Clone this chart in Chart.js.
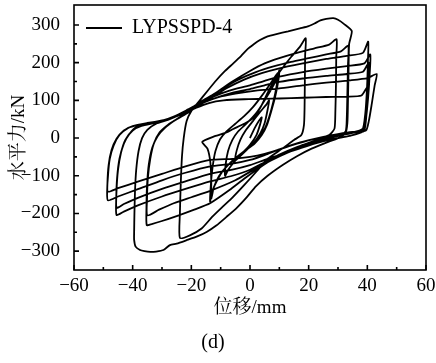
<!DOCTYPE html>
<html><head><meta charset="utf-8">
<script src="https://cdn.jsdelivr.net/npm/chart.js@4.4.1/dist/chart.umd.min.js"></script>
<style>html,body{margin:0;padding:0;background:#fff;}#wrap{width:436px;height:363px;}</style>
</head><body><div id="wrap"><canvas id="c" width="436" height="363"></canvas></div>
<script>
// displacement (mm), force (kN) pairs, in loading order
const loopsSmall = [
[0,0],[1.5,25],[3,45],[4,55],[3.4,35],[2.2,8],[0,-18],[-2,-35],[-4,-48],[-5,-55],[-4.5,-32],[-3.3,-5],[-1.5,20],[1,45],[3.5,70],[5.5,88],[6.5,100],[6,75],[5,40],[3.5,12],[1,-15],[-2,-38],[-5,-60],[-7.5,-85],[-8.5,-100],[-8.3,-70],[-7.5,-35],[-6,-5],[-4,18],[-1,40],[2,65],[5,100],[8,140],[9.5,165],[10,180]
];
const loops10 = [
[9.6,150],[8.6,110],[7.2,70],[5.8,35],[4,8],[1.5,-15],[-2,-35],[-6,-60],[-9.5,-90],[-12,-125],[-13.2,-150],[-13.6,-169],
[-13.4,-130],[-12.8,-80],[-11.8,-35],[-10.2,-3],[-8,18],[-5,38],[-2,58],[1,82],[4,112],[7,145],[9,168],[9.5,172],
[9.1,140],[8,98],[6.6,58],[5.2,28],[3.3,3],[0.5,-20],[-3.5,-45],[-7.5,-72],[-10.5,-100],[-12.3,-130],[-13.2,-160]
];
const loop20 = [
[-13.2,-115],[-13.5,-65],[-14.5,-28],[-16.3,-10],[-12,5],[-8,15],[-5.7,24],[-2,38],[1,52],[3.5,80],[6,120],[9,163],[11.4,189],[14,215],[17,242],[19,265],
[18.8,220],[18.7,150],[18.6,80],[18.4,35],[17.5,8],[15,-5],[11,-28],[6,-55],[2.3,-88],[-2,-125],[-6,-158],[-9,-180],[-13,-210],[-16.5,-240],[-20.5,-258],[-23.9,-265]
];
const loop30 = [
[-23.9,-200],[-23.6,-120],[-23.2,-50],[-22.6,0],[-21.6,45],[-20,72],[-17.5,96],[-14.5,125],[-11.4,154],[-8.5,178],[-5.7,198],[-3,218],[-1.1,234],[1.5,250],[3.4,260],[6,270],[9,276],[13,283],[17,291],[20,297],[22,304],[24,312],[26,316],[28.4,318],[30,314],[32,303],[34.7,284],
[33.8,250],[33.6,180],[33.4,100],[33.2,40],[32.5,12],[30,0],[26,-12],[21,-28],[16,-48],[11,-72],[6,-100],[2,-128],[-1,-156],[-4.5,-185],[-8,-209],[-11.5,-232],[-14.8,-249],[-18,-261],[-21.6,-271],[-25,-280],[-27.3,-284],[-29.5,-297],[-32,-301],[-34,-302],[-36,-300],[-37.5,-297],[-39,-288],[-39.5,-270],[-39.5,-250]
];
const loop30b = [
[-39.4,-200],[-39.2,-140],[-38.8,-85],[-38,-35],[-36.8,0],[-35,22],[-32,38],[-28,48],[-24,62],[-20,80],[-16,100],[-12,118],[-6,150],[0,178],[5,198],[10,212],[16,226],[22,238],[27,248],[29.5,262],
[29.4,215],[29.3,140],[29.1,70],[28.8,25],[27,8],[23,-4],[18,-18],[13,-35],[8,-55],[3,-80],[-2,-108],[-7,-138],[-13.6,-173],[-19,-190],[-25,-207],[-30,-220],[-33.5,-228],[-35.2,-231]
];
const loop35 = [
[-35.3,-185],[-35.1,-125],[-34.5,-70],[-33.3,-25],[-31.5,5],[-29,27],[-26,45],[-22.5,63],[-19,82],[-15,102],[-10,128],[-4,155],[2,175],[8,190],[14,202],[20,212],[26,222],[31,230],[33.5,245],
[33.4,195],[33.2,120],[33,55],[32.6,18],[30,6],[25,-5],[19,-20],[13,-38],[7,-60],[1,-85],[-5,-112],[-13.6,-140],[-20,-157],[-26,-173],[-31,-190],[-35,-205]
];
const loop40a = [
[-35.1,-160],[-34.8,-105],[-34,-55],[-32.8,-15],[-30.8,15],[-28,35],[-24.5,52],[-21,68],[-17,90],[-13,108],[-8,132],[-2,155],[4,172],[10,185],[18,198],[26,210],[33,218],[38.5,226],[40.3,256],
[40.2,205],[39.9,135],[39.3,65],[38.3,22],[34,12],[28,4],[22,-8],[16,-24],[10,-44],[5,-64],[0,-84],[-6,-100],[-13.6,-115],[-22,-135],[-30,-155],[-38,-178],[-43,-195],[-45.5,-204]
];
const loop40b = [
[-45.6,-160],[-45.3,-105],[-44.5,-55],[-43,-15],[-41,12],[-38.6,30],[-34,40],[-30,46],[-26,57],[-21.6,74],[-17,93],[-12.5,110],[-7,126],[0,140],[5,152],[10,163],[18,175],[26,184],[33,191],[39,198],[41,222],
[40.8,170],[40.3,110],[39.5,50],[38.5,18],[34,6],[28,-3],[22,-15],[16,-30],[10,-45],[5,-58],[0,-72],[-6,-84],[-13.6,-95],[-22,-115],[-30,-135],[-38,-158],[-43,-175],[-45.5,-185]
];
const loop45a = [
[-45.5,-140],[-45,-85],[-44,-40],[-42.5,-5],[-40,20],[-37,32],[-32,41],[-27,53],[-22,70],[-17.5,88],[-13,103],[-7,118],[0,130],[5,140],[10,149],[18,158],[26,165],[33,170],[38.5,176],[40.5,200],
[40.4,150],[40,95],[39.5,45],[38.8,18],[34,16],[28,8],[22,-2],[16,-14],[10,-30],[5,-45],[0,-58],[-6,-68],[-13.6,-75],[-22,-92],[-30,-112],[-38,-135],[-45,-155],[-48.5,-165]
];
const loop45b = [
[-48.6,-120],[-48.2,-72],[-47.2,-32],[-45.5,-2],[-43,20],[-40,32],[-35,40],[-30,46],[-25,58],[-20,76],[-15.5,95],[-11,108],[-5,118],[2,126],[10,132],[18,140],[26,147],[34,153],[40,159],[43.2,170],
[42.5,140],[41.5,90],[40.5,45],[39.5,20],[35,14],[29,8],[22,-2],[16,-15],[10,-30],[5,-42],[0,-50],[-6,-55],[-13.6,-58],[-22,-75],[-30,-95],[-38,-115],[-45,-133],[-48.5,-142]
];
const loop45c = [
[-48.4,-100],[-47.8,-55],[-46.5,-20],[-44.5,8],[-41.5,27],[-38,35],[-33,42],[-28,50],[-23,64],[-18.5,80],[-14,93],[-9,100],[-2,103],[5,104],[10,105],[18,107],[26,109],[33,110],[38,113],[40,135],
[39.8,100],[39.3,55],[38.5,25],[35,15],[30,10]
];
const seriesName = 'LYPSSPD-4';
const xTickValues = [-60,-40,-20,0,20,40,60];
const yTickValues = [-300,-200,-100,0,100,200,300];
const xTitle = '位移/mm';
const yTitle = '水平力/kN';
const caption = '(d)';

const path = [].concat(loopsSmall, loops10, loop20, loop30, loop30b, loop35, loop40a, loop40b, loop45a, loop45b, loop45c)
  .map(([x, y]) => ({x, y}));

const FONT = "'Liberation Serif', 'Times New Roman', 'Noto Serif CJK SC', 'Noto Sans CJK SC', serif";
const fmt = v => (v < 0 ? '\u2212' + Math.abs(v) : String(v));

const framePlugin = {
  id: 'frame',
  afterDraw(chart) {
    const {ctx, chartArea: a, scales: {x, y}} = chart;
    ctx.save();
    ctx.strokeStyle = '#000';
    ctx.lineWidth = 1.6;
    ctx.strokeRect(a.left, a.top, a.right - a.left, a.bottom - a.top);
    ctx.beginPath();
    for (let v = x.min; v <= x.max; v += 10) {
      const px = x.getPixelForValue(v);
      const len = v % 20 === 0 ? 5 : 3;
      ctx.moveTo(px, a.bottom); ctx.lineTo(px, a.bottom - len);
    }
    for (let v = -300; v <= 300; v += 50) {
      const py = y.getPixelForValue(v);
      const len = v % 100 === 0 ? 5 : 3;
      ctx.moveTo(a.left, py); ctx.lineTo(a.left + len, py);
    }
    ctx.stroke();
    ctx.restore();
  }
};

new Chart(document.getElementById('c'), {
  type: 'line',
  data: {datasets: [{
    label: seriesName, data: path, borderColor: '#000', backgroundColor: '#000',
    borderWidth: 1.8, pointRadius: 0, tension: 0.2, fill: false
  }]},
  options: {
    responsive: false, animation: false, devicePixelRatio: 1,
    layout: {padding: {left: 0, right: 10, top: 5, bottom: 0}},
    plugins: {
      legend: {position: 'chartArea', align: 'start',
        title: {display: true, text: '', font: {size: 5}, padding: 0},
        labels: {usePointStyle: true, pointStyle: 'line', pointStyleWidth: 36, boxWidth: 36,
          padding: 12, color: '#000', font: {family: FONT, size: 20}}},
      title: {display: true, text: caption, position: 'bottom', color: '#000',
        font: {family: FONT, size: 20, weight: 'normal'}, padding: {top: 0, bottom: 8}},
      tooltip: {enabled: false}
    },
    scales: {
      x: {type: 'linear', min: -60, max: 60,
        afterBuildTicks: s => { s.ticks = xTickValues.map(v => ({value: v})); },
        afterFit: s => { s.height = 61; s.paddingLeft = 0; s.paddingRight = 0; },
        grid: {display: false}, border: {display: false},
        ticks: {color: '#000', padding: -3, maxRotation: 0, font: {family: FONT, size: 19}, callback: v => fmt(v)},
        title: {display: true, text: xTitle, color: '#000', font: {family: FONT, size: 19}, padding: {top: 0, bottom: 12}}
      },
      y: {min: -350, max: 353,
        afterBuildTicks: s => { s.ticks = yTickValues.map(v => ({value: v})); },
        afterFit: s => { s.width = 74; s.paddingTop = 0; s.paddingBottom = 0; },
        grid: {display: false}, border: {display: false},
        ticks: {color: '#000', padding: 6, font: {family: FONT, size: 19}, callback: v => fmt(v)},
        title: {display: true, text: yTitle, color: '#000', font: {family: FONT, size: 19}, padding: {top: 8, bottom: 0}}
      }
    }
  },
  plugins: [framePlugin]
});
</script></body></html>
